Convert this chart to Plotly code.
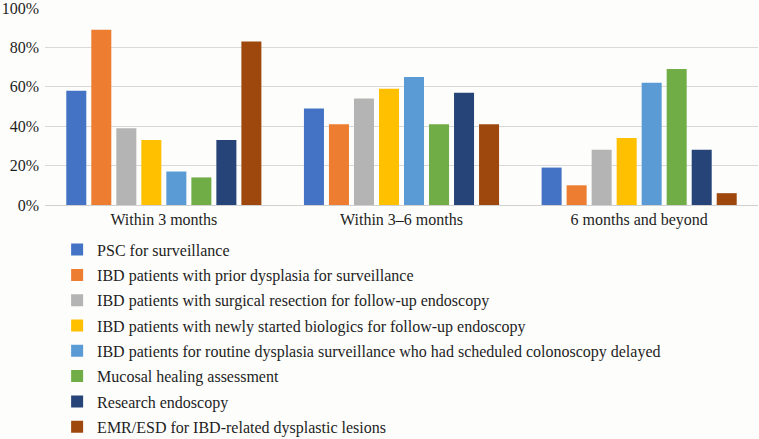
import plotly.graph_objects as go

# -----------------------------
# Data
# -----------------------------
CATEGORIES = ["Within 3 months", "Within 3–6 months", "6 months and beyond"]

SERIES = [
    "PSC for surveillance",
    "IBD patients with prior dysplasia for surveillance",
    "IBD patients with surgical resection for follow-up endoscopy",
    "IBD patients with newly started biologics for follow-up endoscopy",
    "IBD patients for routine dysplasia surveillance who had scheduled colonoscopy delayed",
    "Mucosal healing assessment",
    "Research endoscopy",
    "EMR/ESD for IBD-related dysplastic lesions",
]

PSC = [58, 49, 19]
PRIOR_DYSPLASIA = [89, 41, 10]
SURGICAL_RESECTION = [39, 54, 28]
NEW_BIOLOGICS = [33, 59, 34]
ROUTINE_SURVEILLANCE = [17, 65, 62]
MUCOSAL_HEALING = [14, 41, 69]
RESEARCH = [33, 57, 28]
EMR_ESD = [83, 41, 6]

VALUES = [PSC, PRIOR_DYSPLASIA, SURGICAL_RESECTION, NEW_BIOLOGICS,
          ROUTINE_SURVEILLANCE, MUCOSAL_HEALING, RESEARCH, EMR_ESD]

COLORS = ["#4472C4", "#ED7D31", "#B4B4B4", "#FFC000",
          "#5B9BD5", "#70AD47", "#264478", "#9E480E"]

Y_TICKS = [0, 20, 40, 60, 80, 100]
Y_TICK_LABELS = ["0%", "20%", "40%", "60%", "80%", "100%"]

FONT = "Liberation Serif"
BG = "#FDFDFB"
TEXT = "#1E1E1E"

# -----------------------------
# Plot
# -----------------------------
fig = go.Figure()

for i, (name, vals) in enumerate(zip(SERIES, VALUES)):
    fig.add_trace(go.Bar(
        x=CATEGORIES,
        y=vals,
        name=name,
        legendgroup=f"g{i}",
        marker=dict(color=COLORS[i], line=dict(width=0)),
    ))

# figure is a bit taller than the window so the legend box is not clipped
fig.update_layout(
    width=759,
    height=452,
    barmode="group",
    bargap=0.158,
    bargroupgap=0.2,
    paper_bgcolor=BG,
    plot_bgcolor=BG,
    font=dict(family=FONT, size=16, color=TEXT),
    margin=dict(l=45, r=1, t=7, b=247, autoexpand=False),
    showlegend=True,
    legend=dict(
        x=0.017, y=-0.14, xanchor="left", yanchor="top",
        orientation="v",
        bgcolor="rgba(0,0,0,0)",
        font=dict(family=FONT, size=16, color=TEXT),
        tracegroupgap=1.5,
    ),
    xaxis=dict(
        showline=True, linecolor="#D0D0D0", linewidth=1,
        ticks="", tickfont=dict(size=16),
    ),
    yaxis=dict(
        range=[0, 100.5],
        tickvals=Y_TICKS, ticktext=Y_TICK_LABELS,
        showgrid=True, gridcolor="#D9D9D9", gridwidth=1,
        zeroline=False, ticks="",
        ticklabeloverflow="allow",
        ticklabelstandoff=5,
        tickfont=dict(size=16),
    ),
)

# drop the browser's default page margin so the figure sits at the corner
fig.write_html(
    "out.html",
    config={"displayModeBar": False},
    post_script="document.body.style.margin='0';document.body.style.overflow='hidden';",
)
